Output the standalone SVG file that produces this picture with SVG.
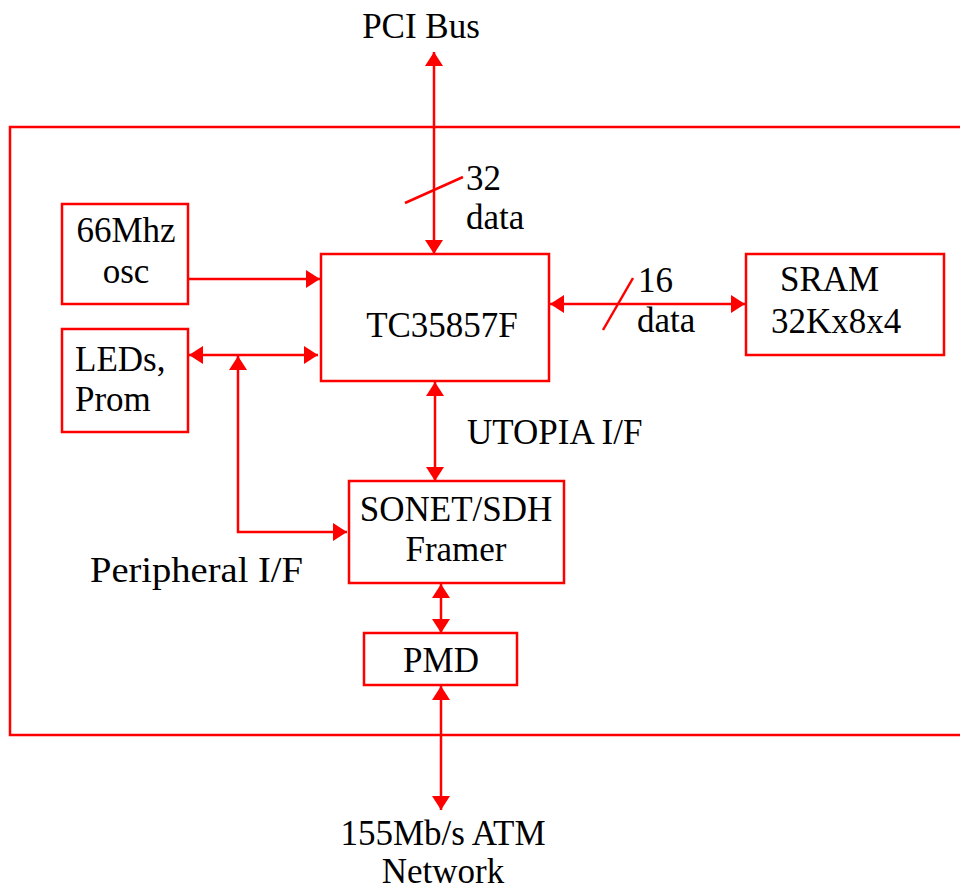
<svg xmlns="http://www.w3.org/2000/svg" width="960" height="890" viewBox="0 0 960 890">
<defs>
<style>
.box{fill:none;stroke:#ff0000;stroke-width:2.5}
.ln{fill:none;stroke:#ff0000;stroke-width:2.5}
.t{font-family:"Liberation Serif","Times New Roman",serif;font-size:35px;fill:#000}
.c{text-anchor:middle}
</style>
<marker id="ah" viewBox="0 0 14 18" refX="14" refY="9" markerWidth="14" markerHeight="18" markerUnits="userSpaceOnUse" orient="auto-start-reverse">
<path d="M0,0 L14,9 L0,18 z" fill="#ff0000"/>
</marker>
</defs>
<rect width="960" height="890" fill="#ffffff"/>
<path class="box" d="M962,127 H10 V735 H962"/>
<g id="connectors">
<line class="ln" x1="434" y1="52" x2="434" y2="254" marker-start="url(#ah)" marker-end="url(#ah)"/>
<line class="ln" x1="405" y1="203" x2="463" y2="177"/>
<line class="ln" x1="188" y1="279" x2="320" y2="279" marker-end="url(#ah)"/>
<line class="ln" x1="189" y1="355" x2="318" y2="355" marker-start="url(#ah)" marker-end="url(#ah)"/>
<polyline class="ln" points="347,532 238,532 238,356" marker-start="url(#ah)" marker-end="url(#ah)"/>
<line class="ln" x1="550" y1="304" x2="745" y2="304" marker-start="url(#ah)" marker-end="url(#ah)"/>
<line class="ln" x1="603" y1="330" x2="633" y2="278"/>
<line class="ln" x1="435" y1="382" x2="435" y2="481" marker-start="url(#ah)" marker-end="url(#ah)"/>
<line class="ln" x1="441" y1="584" x2="441" y2="633" marker-start="url(#ah)" marker-end="url(#ah)"/>
<line class="ln" x1="441" y1="686" x2="441" y2="810" marker-start="url(#ah)" marker-end="url(#ah)"/>
</g>
<g id="pci-label"><text class="t c" x="421" y="38">PCI Bus</text></g>
<g id="bus32-label"><text class="t" x="466" y="190">32</text><text class="t" x="466" y="229">data</text></g>
<g id="tc"><rect class="box" x="321" y="254" width="228" height="127"/><text class="t c" x="442" y="337">TC35857F</text></g>
<g id="osc"><rect class="box" x="62" y="204" width="126" height="100"/><text class="t c" x="126" y="242">66Mhz</text><text class="t c" x="126" y="283">osc</text></g>
<g id="leds"><rect class="box" x="62" y="329" width="126" height="103"/><text class="t" x="75" y="371">LEDs,</text><text class="t" x="75" y="411">Prom</text></g>
<g id="sram"><rect class="box" x="746" y="254" width="198" height="101"/><text class="t" x="780" y="291">SRAM</text><text class="t" x="771" y="333">32Kx8x4</text></g>
<g id="bus16-label"><text class="t" x="638" y="292">16</text><text class="t" x="637" y="332">data</text></g>
<g id="utopia-label"><text class="t" x="467" y="444">UTOPIA I/F</text></g>
<g id="framer"><rect class="box" x="349" y="481" width="215" height="102"/><text class="t c" x="456" y="521">SONET/SDH</text><text class="t c" x="456" y="561">Framer</text></g>
<g id="peripheral-label"><text class="t" x="90" y="582" font-size="37" textLength="213" lengthAdjust="spacingAndGlyphs">Peripheral I/F</text></g>
<g id="pmd"><rect class="box" x="364" y="633" width="153" height="52"/><text class="t c" x="441" y="672">PMD</text></g>
<g id="network-label"><text class="t c" x="443" y="845">155Mb/s ATM</text><text class="t c" x="443" y="883">Network</text></g>
</svg>
